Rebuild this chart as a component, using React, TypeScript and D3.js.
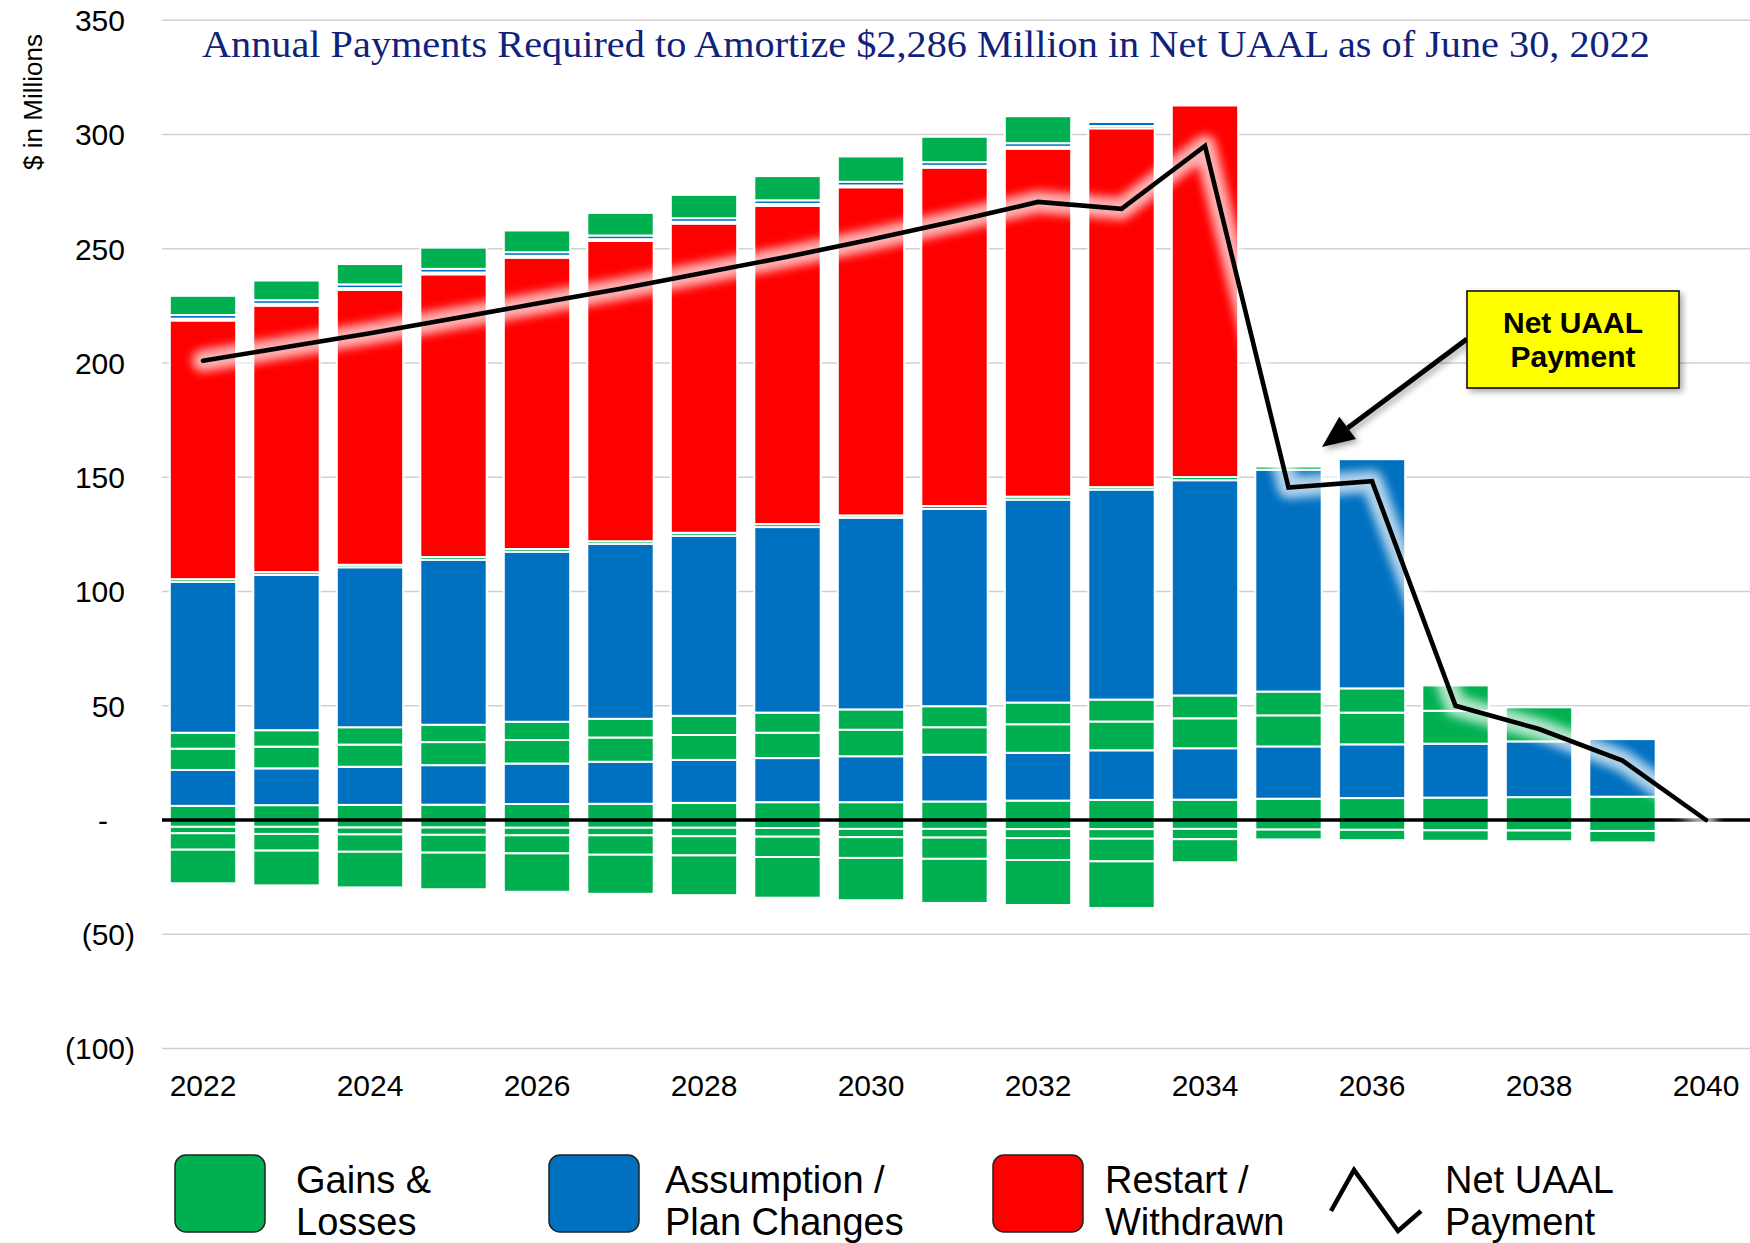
import React, { useEffect, useRef } from 'react';
import * as d3 from 'd3';

// categories
const years = [2022, 2023, 2024, 2025, 2026, 2027, 2028, 2029, 2030, 2031, 2032, 2033, 2034, 2035, 2036, 2037, 2038, 2039, 2040];
const yearLabels = ['2022', '2024', '2026', '2028', '2030', '2032', '2034', '2036', '2038', '2040'];

// positive stack, bottom to top ($ millions)
const gainsLoss1 = [6.2, 6.5, 6.6, 6.7, 7.0, 7.1, 7.5, 7.8, 7.8, 8.1, 8.5, 8.8, 8.9, 9.3, 9.6, 9.8, 10.0, 10.2, 0];
const assumption1 = [15.7, 16.1, 16.7, 17.3, 17.7, 18.4, 18.8, 19.3, 20.1, 20.5, 20.9, 21.7, 22.5, 22.9, 23.5, 23.6, 24.4, 25.2, 0];
const gainsLoss2 = [9.3, 9.5, 9.7, 10.1, 10.3, 10.6, 10.9, 11.1, 11.6, 12.0, 12.5, 12.6, 13.1, 13.6, 13.9, 14.4, 14.9, 0, 0];
const gainsLoss3 = [7.0, 7.2, 7.6, 7.6, 8.0, 8.2, 8.4, 8.8, 8.9, 9.2, 9.5, 9.6, 10.0, 10.4, 10.6, 11.1, 0, 0, 0];
const assumption2 = [66.0, 68.0, 70.0, 72.2, 74.4, 76.5, 78.8, 81.2, 83.9, 86.3, 88.8, 91.9, 94.2, 97.1, 100.3, 0, 0, 0, 0];
const gainsLoss4 = [1.2, 1.2, 1.1, 1.2, 1.2, 1.2, 1.3, 1.3, 1.0, 1.3, 1.3, 1.1, 1.4, 1.4, 0, 0, 0, 0, 0];
const restart = [113.2, 116.6, 120.3, 123.7, 127.5, 131.4, 135.3, 139.3, 143.6, 148.1, 152.3, 157.0, 162.6, 0, 0, 0, 0, 0, 0];
const gainsLoss5 = [0.8, 0.8, 0.8, 0.8, 0.8, 0.8, 0.8, 0.8, 0.8, 0.8, 0.8, 1.0, 0, 0, 0, 0, 0, 0, 0];
const assumption3 = [1.6, 1.6, 1.6, 1.6, 1.6, 1.6, 1.6, 1.6, 1.6, 1.6, 1.6, 1.8, 0, 0, 0, 0, 0, 0, 0];
const gainsLoss6 = [8.4, 8.6, 8.9, 9.3, 9.5, 9.9, 10.2, 10.6, 11.1, 11.1, 11.8, 0, 0, 0, 0, 0, 0, 0, 0];

// negative stack, top to bottom
const gainsLossN1 = [-3.0, -3.0, -3.3, -3.3, -3.4, -3.4, -3.4, -3.5, -3.9, -3.9, -4.0, -4.0, -3.9, -4.2, -4.3, -4.5, -4.6, -4.8, 0];
const gainsLossN2 = [-2.8, -3.1, -3.0, -3.2, -3.3, -3.3, -3.7, -3.8, -3.6, -3.8, -3.9, -4.2, -4.5, -4.3, -4.5, -4.6, -4.7, -5.0, 0];
const gainsLossN3 = [-7.2, -7.3, -7.6, -7.8, -7.9, -8.5, -8.4, -8.9, -9.1, -9.3, -9.6, -9.9, -10.1, 0, 0, 0, 0, 0, 0];
const gainsLossN4 = [-14.7, -15.2, -15.6, -16.0, -16.8, -17.1, -17.4, -17.8, -18.5, -19.3, -19.7, -20.4, 0, 0, 0, 0, 0, 0, 0];

// net UAAL payment line
const netPayment = [201, 207, 213, 219.5, 226, 232.5, 239.5, 246.5, 254, 262, 270.5, 267.5, 295, 145.5, 148.3, 50, 39.8, 26, 0];

const yTicks = [350, 300, 250, 200, 150, 100, 50, 0, -50, -100];
const yTickLabels = ['350', '300', '250', '200', '150', '100', '50', '-', '(50)', '(100)'];

const GREEN = '#00B050';
const BLUE = '#0070C0';
const RED = '#FF0000';

const seriesList = [
  { key: 'gl1', values: gainsLoss1, color: GREEN },
  { key: 'ap1', values: assumption1, color: BLUE },
  { key: 'gl2', values: gainsLoss2, color: GREEN },
  { key: 'gl3', values: gainsLoss3, color: GREEN },
  { key: 'ap2', values: assumption2, color: BLUE },
  { key: 'gl4', values: gainsLoss4, color: GREEN },
  { key: 'rw', values: restart, color: RED },
  { key: 'gl5', values: gainsLoss5, color: GREEN },
  { key: 'ap3', values: assumption3, color: BLUE },
  { key: 'gl6', values: gainsLoss6, color: GREEN },
  { key: 'n1', values: gainsLossN1, color: GREEN },
  { key: 'n2', values: gainsLossN2, color: GREEN },
  { key: 'n3', values: gainsLossN3, color: GREEN },
  { key: 'n4', values: gainsLossN4, color: GREEN },
];

const legendItems = [
  { color: GREEN, lines: ['Gains &', 'Losses'], x: 175, tx: 296 },
  { color: BLUE, lines: ['Assumption /', 'Plan Changes'], x: 549, tx: 665 },
  { color: RED, lines: ['Restart /', 'Withdrawn'], x: 993, tx: 1105 },
];

const SANS = '"Liberation Sans", Arial, sans-serif';

const App = () => {
  const svgRef = useRef<SVGSVGElement>(null);

  useEffect(() => {
    drawChart();
  }, []);

  const drawChart = () => {
    const svg = d3.select(svgRef.current);
    svg.selectAll('*').remove();

    const width = 1750;
    const height = 1243;
    svg.attr('width', width).attr('height', height);

    const defs = svg.append('defs');
    defs.append('filter').attr('id', 'glow')
      .attr('x', '-10%').attr('y', '-10%').attr('width', '120%').attr('height', '120%')
      .append('feGaussianBlur').attr('stdDeviation', 5);
    const shadow = defs.append('filter').attr('id', 'shadow')
      .attr('x', '-20%').attr('y', '-20%').attr('width', '150%').attr('height', '150%');
    shadow.append('feDropShadow').attr('dx', 3).attr('dy', 3).attr('stdDeviation', 3)
      .attr('flood-color', '#000').attr('flood-opacity', 0.35);

    const x = d3.scaleBand<number>()
      .domain(years)
      .range([161.25, 1747.75])
      .paddingInner(0.205)
      .paddingOuter(0.1025);

    const y = d3.scaleLinear()
      .domain([-100, 350])
      .range([1048.5, 20.25]);

    const gridLeft = 162;
    const gridRight = width;

    // gridlines
    svg.append('g')
      .selectAll('line')
      .data(yTicks.filter(t => t !== 0))
      .enter()
      .append('line')
      .attr('x1', gridLeft).attr('x2', gridRight)
      .attr('y1', d => y(d)).attr('y2', d => y(d))
      .attr('stroke', '#D0D0D0')
      .attr('stroke-width', 1.5);

    // y tick labels
    svg.append('g')
      .selectAll('text')
      .data(yTicks)
      .enter()
      .append('text')
      .attr('x', (d) => d < 0 ? 135 : d === 0 ? 108 : 125)
      .attr('y', d => y(d))
      .attr('dy', '0.36em')
      .attr('text-anchor', 'end')
      .attr('font-family', SANS)
      .attr('font-size', 30)
      .attr('fill', '#000')
      .text((d, i) => yTickLabels[i]);

    // y axis title
    svg.append('text')
      .attr('transform', 'translate(42,102) rotate(-90)')
      .attr('text-anchor', 'middle')
      .attr('font-family', SANS)
      .attr('font-size', 26)
      .text('$ in Millions');

    // x tick labels
    svg.append('g')
      .selectAll('text')
      .data(yearLabels)
      .enter()
      .append('text')
      .attr('x', d => (x(+d) as number) + x.bandwidth() / 2)
      .attr('y', 1096)
      .attr('text-anchor', 'middle')
      .attr('font-family', SANS)
      .attr('font-size', 30)
      .text(d => d);

    // stacked bars
    const table = years.map((yr, i) => {
      const row: any = { year: yr };
      seriesList.forEach(s => { row[s.key] = s.values[i]; });
      return row;
    });
    const stacked = d3.stack()
      .keys(seriesList.map(s => s.key))
      .offset(d3.stackOffsetDiverging)(table);

    stacked.forEach((layer, si) => {
      svg.append('g')
        .selectAll('rect')
        .data(layer.filter(d => Math.abs(d[1] - d[0]) > 0.001))
        .enter()
        .append('rect')
        .attr('x', d => x((d.data as any).year) as number)
        .attr('width', x.bandwidth())
        .attr('y', d => y(Math.max(d[0], d[1])))
        .attr('height', d => Math.abs(y(d[0]) - y(d[1])))
        .attr('fill', seriesList[si].color)
        .attr('stroke', '#fff')
        .attr('stroke-width', 2);
    });

    // zero line
    svg.append('line')
      .attr('x1', gridLeft).attr('x2', gridRight)
      .attr('y1', y(0)).attr('y2', y(0))
      .attr('stroke', '#000')
      .attr('stroke-width', 3.3);

    // net UAAL payment line
    const line = d3.line<number>()
      .x((d, i) => (x(years[i]) as number) + x.bandwidth() / 2)
      .y(d => y(d));

    svg.append('path')
      .datum(netPayment)
      .attr('d', line)
      .attr('fill', 'none')
      .attr('stroke', '#fff')
      .attr('stroke-width', 22)
      .attr('stroke-opacity', 0.7)
      .attr('stroke-linejoin', 'round')
      .attr('stroke-linecap', 'round')
      .attr('filter', 'url(#glow)');

    svg.append('path')
      .datum(netPayment)
      .attr('d', line)
      .attr('fill', 'none')
      .attr('stroke', '#000')
      .attr('stroke-width', 4.6)
      .attr('stroke-linecap', 'round')
      .attr('stroke-linejoin', 'miter');

    // title
    svg.append('text')
      .attr('x', 926)
      .attr('y', 57)
      .attr('text-anchor', 'middle')
      .attr('font-family', '"Liberation Serif", "Times New Roman", serif')
      .attr('font-size', 38)
      .attr('fill', '#10227A')
      .attr('textLength', 1448)
      .attr('lengthAdjust', 'spacingAndGlyphs')
      .text('Annual Payments Required to Amortize $2,286 Million in Net UAAL as of June 30, 2022');

    // callout arrow
    const arrow = svg.append('g').attr('filter', 'url(#shadow)');
    const ax0 = 1467, ay0 = 339, ax1 = 1322, ay1 = 447;
    const ang = Math.atan2(ay1 - ay0, ax1 - ax0);
    const headLen = 32, headW = 14;
    const bx = ax1 - headLen * Math.cos(ang);
    const by = ay1 - headLen * Math.sin(ang);
    arrow.append('line')
      .attr('x1', ax0).attr('y1', ay0).attr('x2', bx).attr('y2', by)
      .attr('stroke', '#000').attr('stroke-width', 5);
    arrow.append('path')
      .attr('d', `M${ax1},${ay1} L${bx + headW * Math.sin(ang)},${by - headW * Math.cos(ang)} L${bx - headW * Math.sin(ang)},${by + headW * Math.cos(ang)} Z`)
      .attr('fill', '#000');

    // callout box
    const box = svg.append('g');
    box.append('rect')
      .attr('x', 1467).attr('y', 291).attr('width', 212).attr('height', 97)
      .attr('fill', '#FFFF00').attr('stroke', '#000').attr('stroke-width', 1.5)
      .attr('filter', 'url(#shadow)');
    box.append('text')
      .attr('x', 1573).attr('y', 333)
      .attr('text-anchor', 'middle')
      .attr('font-family', SANS).attr('font-weight', 'bold').attr('font-size', 30)
      .text('Net UAAL');
    box.append('text')
      .attr('x', 1573).attr('y', 367)
      .attr('text-anchor', 'middle')
      .attr('font-family', SANS).attr('font-weight', 'bold').attr('font-size', 30)
      .text('Payment');

    // legend
    const legend = svg.append('g');
    legendItems.forEach(item => {
      legend.append('rect')
        .attr('x', item.x).attr('y', 1155).attr('width', 90).attr('height', 77)
        .attr('rx', 11).attr('ry', 11)
        .attr('fill', item.color).attr('stroke', '#222').attr('stroke-width', 1.5);
      item.lines.forEach((t, i) => {
        legend.append('text')
          .attr('x', item.tx).attr('y', 1193 + i * 42)
          .attr('font-family', SANS).attr('font-size', 38)
          .text(t);
      });
    });
    legend.append('path')
      .attr('d', 'M1331,1211 L1354,1170 L1398,1231 L1421,1211')
      .attr('fill', 'none').attr('stroke', '#000').attr('stroke-width', 4.5);
    ['Net UAAL', 'Payment'].forEach((t, i) => {
      legend.append('text')
        .attr('x', 1445).attr('y', 1193 + i * 42)
        .attr('font-family', SANS).attr('font-size', 38)
        .text(t);
    });
  };

  return (
    <svg ref={svgRef} style={{ position: 'absolute', left: 0, top: 0, background: '#fff' }}></svg>
  );
};

export default App;
